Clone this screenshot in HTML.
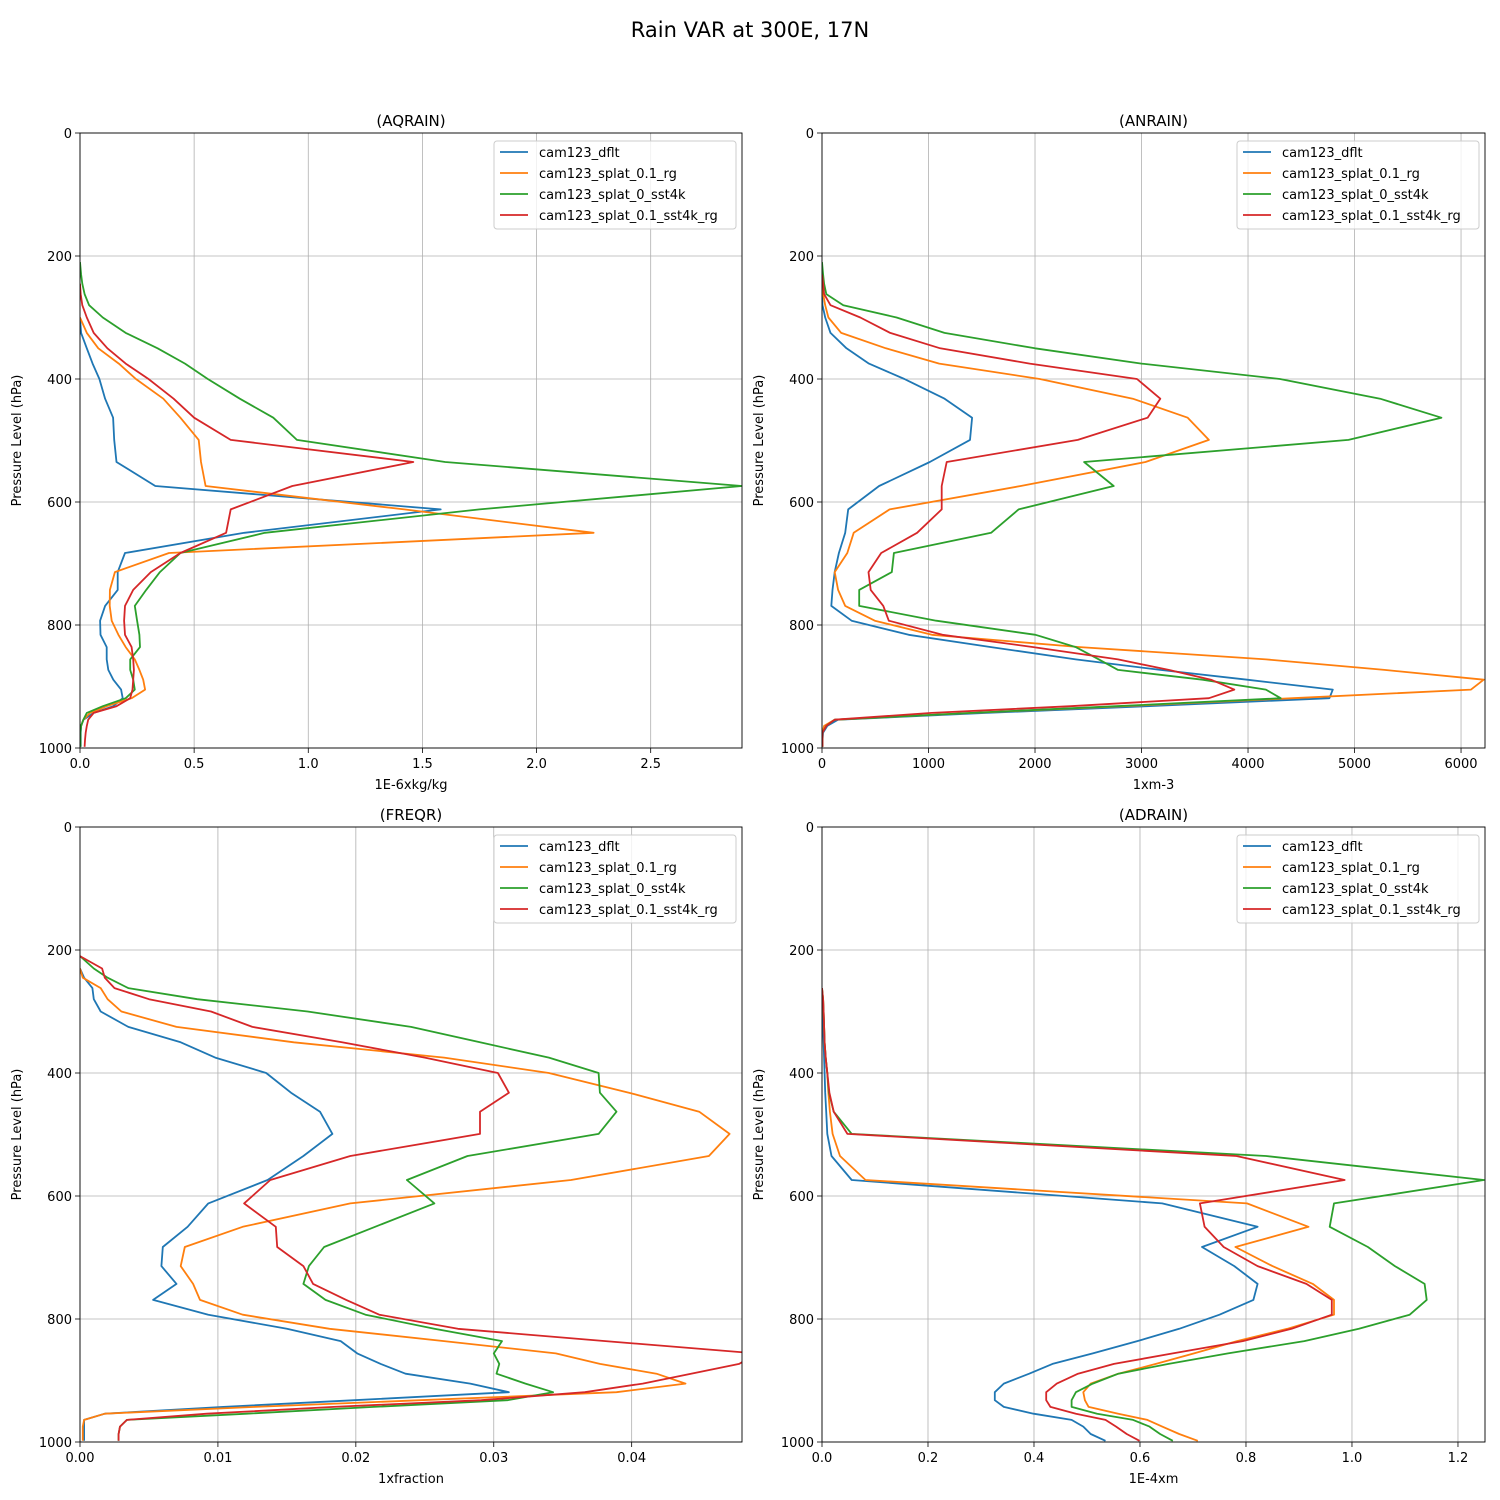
<!DOCTYPE html>
<html><head><meta charset="utf-8"><style>
html,body{margin:0;padding:0;background:#fff}
svg{display:block;font-family:"DejaVu Sans","Liberation Sans",sans-serif}
</style></head><body>
<svg id="fig" width="1500" height="1500" viewBox="0 0 1500 1500" xmlns="http://www.w3.org/2000/svg">
<rect width="1500" height="1500" fill="#fff"/>
<text x="750" y="37" text-anchor="middle" font-size="21">Rain VAR at 300E, 17N</text>
</svg>
<script>
const levels = [0,150,210,230,245,262,280,300,325,350,375,400,432,463,499,535,574,612,650,683,714,743,769,793,816,836,856,873,889,905,919,932,943,954,964,975,987,998];
const seriesNames = ["cam123_dflt","cam123_splat_0.1_rg","cam123_splat_0_sst4k","cam123_splat_0.1_sst4k_rg"];
const colors = ["#1f77b4","#ff7f0e","#2ca02c","#d62728"];
const yTicks = [0,200,400,600,800,1000];

const aqBlue = [0,0,0,0,0,0,0,0,0.005,0.03,0.055,0.085,0.11,0.145,0.15,0.16,0.33,1.58,0.72,0.197,0.165,0.165,0.11,0.088,0.09,0.117,0.117,0.124,0.146,0.18,0.187,0.146,0.06,0.015,0.005,0.003,0.003,0.003];
const aqOrange = [0,0,0,0,0,0,0,0,0.03,0.08,0.17,0.245,0.365,0.44,0.52,0.53,0.55,1.42,2.25,0.39,0.153,0.131,0.13,0.139,0.168,0.2,0.24,0.26,0.277,0.285,0.226,0.117,0.044,0.015,0.005,0,0,0];
const aqGreen = [0,0,0,0.005,0.01,0.02,0.04,0.1,0.2,0.34,0.46,0.56,0.7,0.847,0.95,1.6,2.9,1.75,0.81,0.44,0.35,0.29,0.24,0.25,0.26,0.263,0.22,0.22,0.233,0.24,0.2,0.1,0.03,0.015,0.005,0.002,0.002,0.002];
const aqRed = [0,0,0,0,0,0.003,0.01,0.03,0.06,0.12,0.2,0.3,0.41,0.5,0.66,1.46,0.93,0.66,0.64,0.44,0.31,0.233,0.197,0.193,0.197,0.226,0.233,0.236,0.233,0.23,0.22,0.16,0.06,0.036,0.03,0.025,0.022,0.02];

const anBlue = [0,0,0,0,0,0,5,30,80,230,440,774,1151,1409,1390,1012,536,246,218,159,119,99,87,278,814,1588,2382,3176,3990,4796,4764,3050,1550,150,50,10,5,5];
const anOrange = [0,0,0,0,0,10,30,60,180,600,1100,2045,2918,3434,3633,3037,1866,635,298,238,119,151,218,496,1032,2422,4170,5280,6213,6094,4422,2819,1413,119,20,5,5,5];
const anGreen = [0,0,0,10,20,40,200,700,1150,2000,3000,4300,5240,5816,4943,2461,2739,1846,1588,675,655,349,349,1072,2005,2382,2600,2779,3573,4168,4307,2760,1400,119,40,5,5,5];
const anRed = [0,0,0,0,10,20,80,360,640,1110,1950,2958,3176,3057,2402,1171,1124,1124,893,556,437,457,576,627,1131,1985,2779,3255,3652,3871,3633,2334,1032,119,40,5,5,5];

const frBlue = [0,0,0,0,0.0003,0.0009,0.001,0.0015,0.0035,0.0073,0.0098,0.0135,0.0153,0.0174,0.0183,0.0162,0.0136,0.0093,0.0078,0.006,0.0059,0.007,0.0053,0.0093,0.015,0.0189,0.0201,0.0218,0.0236,0.0283,0.0311,0.0199,0.0104,0.0018,0.0003,0.0003,0.0003,0.0003];
const frOrange = [0,0,0,0,0.0002,0.0015,0.002,0.003,0.007,0.0155,0.0264,0.034,0.0398,0.0449,0.0471,0.0456,0.0356,0.0196,0.0118,0.0076,0.0073,0.0082,0.0087,0.0118,0.0181,0.0264,0.0345,0.0377,0.0418,0.0439,0.0389,0.0247,0.0127,0.0018,0.0003,0.0002,0.0002,0.0002];
const frGreen = [0,0,0,0.001,0.002,0.0035,0.0085,0.0165,0.024,0.029,0.034,0.0376,0.0377,0.0389,0.0376,0.0281,0.0237,0.0257,0.0214,0.0177,0.0166,0.0162,0.0178,0.0207,0.0257,0.0306,0.030,0.0304,0.0302,0.0323,0.0343,0.031,0.0213,0.0121,0.0034,0.0029,0.0028,0.0028];
const frRed = [0,0,0,0.0016,0.0018,0.0025,0.005,0.0095,0.0125,0.019,0.025,0.0303,0.0311,0.029,0.029,0.0196,0.0138,0.0119,0.0142,0.0143,0.0162,0.0169,0.0193,0.0217,0.0274,0.0381,0.049,0.0478,0.0443,0.0408,0.0366,0.0291,0.0184,0.0092,0.0034,0.0029,0.0028,0.0028];

const adBlue = [0,0,0,0,0,0,0.001,0.002,0.002,0.003,0.004,0.005,0.006,0.008,0.01,0.018,0.056,0.642,0.822,0.717,0.778,0.822,0.814,0.75,0.674,0.595,0.511,0.435,0.391,0.343,0.326,0.326,0.343,0.399,0.471,0.493,0.507,0.535];
const adOrange = [0,0,0,0,0,0,0.002,0.003,0.004,0.005,0.007,0.01,0.012,0.015,0.02,0.034,0.082,0.802,0.918,0.78,0.85,0.926,0.966,0.966,0.878,0.783,0.702,0.63,0.559,0.507,0.493,0.496,0.503,0.559,0.614,0.642,0.674,0.709];
const adGreen = [0,0,0,0,0,0,0.002,0.003,0.004,0.005,0.007,0.01,0.013,0.022,0.056,0.838,1.249,0.966,0.958,1.03,1.081,1.137,1.141,1.109,1.013,0.91,0.766,0.654,0.559,0.511,0.479,0.471,0.471,0.519,0.587,0.618,0.638,0.662];
const adRed = [0,0,0,0,0,0,0.002,0.003,0.004,0.005,0.007,0.01,0.014,0.022,0.048,0.782,0.986,0.713,0.722,0.758,0.822,0.914,0.962,0.962,0.886,0.794,0.662,0.551,0.483,0.443,0.423,0.423,0.431,0.479,0.535,0.555,0.575,0.599];

const aqTicks = [0,0.5,1.0,1.5,2.0,2.5];
const aqTickLabels = ["0.0","0.5","1.0","1.5","2.0","2.5"];
const anTicks = [0,1000,2000,3000,4000,5000,6000];
const anTickLabels = ["0","1000","2000","3000","4000","5000","6000"];
const frTicks = [0,0.01,0.02,0.03,0.04];
const frTickLabels = ["0.00","0.01","0.02","0.03","0.04"];
const adTicks = [0,0.2,0.4,0.6,0.8,1.0,1.2];
const adTickLabels = ["0.0","0.2","0.4","0.6","0.8","1.0","1.2"];

const NS="http://www.w3.org/2000/svg";
const svg=document.getElementById('fig');
function mk(tag,attrs,parent){const e=document.createElementNS(NS,tag);for(const k in attrs)e.setAttribute(k,attrs[k]);(parent||svg).appendChild(e);return e;}

const panels=[
 {key:'aqrain',title:'(AQRAIN)',xlabel:'1E-6xkg/kg',x0:80,x1:742,y0:133,y1:748,xmax:2.9,ticks:aqTicks,labels:aqTickLabels,data:[aqBlue,aqOrange,aqGreen,aqRed]},
 {key:'anrain',title:'(ANRAIN)',xlabel:'1xm-3',x0:822,x1:1485,y0:133,y1:748,xmax:6225,ticks:anTicks,labels:anTickLabels,data:[anBlue,anOrange,anGreen,anRed]},
 {key:'freqr',title:'(FREQR)',xlabel:'1xfraction',x0:80,x1:742,y0:827,y1:1442,xmax:0.048,ticks:frTicks,labels:frTickLabels,data:[frBlue,frOrange,frGreen,frRed]},
 {key:'adrain',title:'(ADRAIN)',xlabel:'1E-4xm',x0:822,x1:1485,y0:827,y1:1442,xmax:1.251,ticks:adTicks,labels:adTickLabels,data:[adBlue,adOrange,adGreen,adRed]}
];

panels.forEach((p,pi)=>{
  const g=mk('g',{});
  
  
  const X=v=>p.x0+(v/p.xmax)*(p.x1-p.x0);
  const Y=v=>p.y0+(v/1000)*(p.y1-p.y0);
  const cp=mk('clipPath',{id:'clip'+pi},g);
  mk('rect',{x:p.x0,y:p.y0,width:p.x1-p.x0,height:p.y1-p.y0},cp);
  p.ticks.forEach((t,i)=>{
    const l=mk('line',{x1:X(t),x2:X(t),y1:p.y0,y2:p.y1,stroke:'#b0b0b0','stroke-width':0.8},g);
    
    
    mk('line',{x1:X(t),x2:X(t),y1:p.y1,y2:p.y1+5,stroke:'#000','stroke-width':0.8},g);
    const tx=mk('text',{x:X(t),y:p.y1+20,'text-anchor':'middle','font-size':13},g);
    tx.textContent=p.labels[i];
    
    
  });
  yTicks.forEach(t=>{
    const l=mk('line',{x1:p.x0,x2:p.x1,y1:Y(t),y2:Y(t),stroke:'#b0b0b0','stroke-width':0.8},g);
    
    
    mk('line',{x1:p.x0-5,x2:p.x0,y1:Y(t),y2:Y(t),stroke:'#000','stroke-width':0.8},g);
    const tx=mk('text',{x:p.x0-8,y:Y(t)+5,'text-anchor':'end','font-size':13},g);
    tx.textContent=String(t);
    
    
  });
  p.data.forEach((arr,si)=>{
    let start=arr.findIndex(v=>v>0);
    start=Math.max(0,start-1);
    const pts=[];
    for(let i=start;i<arr.length;i++) pts.push(X(arr[i]).toFixed(1)+','+Y(levels[i]).toFixed(1));
    const pl=mk('polyline',{points:pts.join(' '),fill:'none',stroke:colors[si],'stroke-width':1.8,'clip-path':'url(#clip'+pi+')','stroke-linejoin':'round'},g);
    
    
  });
  const fr=mk('rect',{x:p.x0,y:p.y0,width:p.x1-p.x0,height:p.y1-p.y0,fill:'none',stroke:'#000','stroke-width':0.9},g);
  
  
  const tt=mk('text',{x:(p.x0+p.x1)/2,y:p.y0-7,'text-anchor':'middle','font-size':15},g);
  tt.textContent=p.title;
  
  
  const xl=mk('text',{x:(p.x0+p.x1)/2,y:p.y1+41,'text-anchor':'middle','font-size':13},g);
  xl.textContent=p.xlabel;
  
  
  const yc=(p.y0+p.y1)/2, yx=p.x0-59;
  const yl=mk('text',{x:yx,y:yc,'text-anchor':'middle','font-size':13,transform:'rotate(-90 '+yx+' '+yc+')'},g);
  yl.textContent='Pressure Level (hPa)';
  
  
  const lg=mk('g',{},g);
  
  
  const lx=p.x1-248, ly=p.y0+8;
  mk('rect',{x:lx,y:ly,width:242,height:88,rx:3,fill:'#fff','fill-opacity':0.8,stroke:'#ccc','stroke-width':1},lg);
  seriesNames.forEach((n,si)=>{
    const e=mk('g',{},lg);
    
    
    const yy=ly+11+si*21;
    mk('line',{x1:lx+6,x2:lx+34,y1:yy,y2:yy,stroke:colors[si],'stroke-width':1.8},e);
    const t=mk('text',{x:lx+45,y:yy+5,'font-size':13},e);
    t.textContent=n;
  });
});
</script>
</body></html>
